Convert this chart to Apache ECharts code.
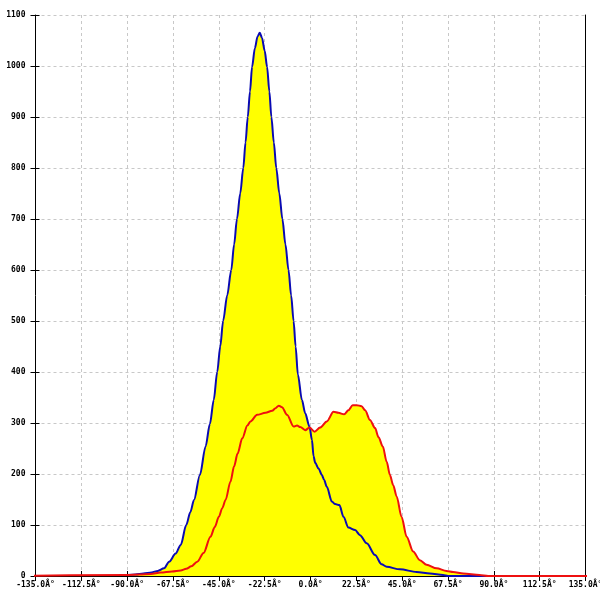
<!DOCTYPE html>
<html>
<head>
<meta charset="utf-8">
<script src="https://cdn.jsdelivr.net/npm/echarts@6/dist/echarts.min.js"></script>
<style>html,body{margin:0;padding:0;background:#fff}#c{width:600px;height:600px}</style>
</head>
<body>
<div id="c"></div>
<script>
var xTicks = [-135, -112.5, -90, -67.5, -45, -22.5, 0, 22.5, 45, 67.5, 90, 112.5, 135];
var yTicks = [0, 100, 200, 300, 400, 500, 600, 700, 800, 900, 1000, 1100];
var blueAngles = [-90,-86,-82,-78,-75,-71.9,-69.4,-66.2,-63.7,-61,-59,-57.2,-54.3,-51.5,-49.4,-47.5,-45.8,-44.3,-42.9,-40.9,-38.9,-37.5,-36.1,-34.5,-33,-31.9,-30.8,-29.7,-28.7,-27.3,-26,-24.9,-23.8,-22.5,-21.3,-20.2,-19.2,-18,-16.8,-15.3,-13.8,-12.3,-10.8,-9.5,-8.3,-7.3,-6.2,-4.2,-2.6,-0.5,0.7,1.5,2.3,3.9,5.6,6.7,8,10.5,12.1,14.2,16.2,18.6,21.9,24.3,27.6,31.7,34.9,37.4,43.9,52.1,58.6,65.1,67.5,90];
var blueValues = [2,3,5,7,10,15,28,44,61,100,125,149,198,254,298,345,400,450,500,550,600,650,700,750,800,850,900,950,998,1035,1058,1065,1055,1030,998,950,900,850,800,750,700,650,600,550,500,450,395,345,319,293,267,235,222,211,198,188,175,146,141,139,116,95,90,80,64,41,23,18,13,8,5,2,0,0];
var redAngles = [-155,-90,-84,-78.4,-73.5,-68,-63.7,-61,-58.5,-55.6,-52.5,-49.1,-47,-45,-43.3,-41.7,-39.3,-37.5,-35.8,-33.5,-31,-29.5,-26.2,-22.1,-18.8,-17.2,-15.6,-14,-11.5,-8.3,-6.6,-5,-2.6,-0.5,2,4.7,8,11.3,13.7,16.5,18.6,20.7,22.7,25.1,26.8,29.2,31.7,33.4,35.5,37.4,39,40.6,42.3,44.7,47.2,50.4,53.7,57,61.9,66.8,70,75,83,87.2,150];
var redValues = [0,2,3,4,7,9,11,14,19,28,45,77,96,116,133,149,185,215,240,270,295,303,316,320,324,329,334,331,316,293,295,292,286,291,283,291,303,322,320,317,325,335,335,333,325,306,290,272,254,224,198,178,156,116,77,48,31,22,15,10,8,5,2,0,0];

function pairs(a, v) { return a.map(function (x, i) { return [x, v[i]]; }); }
var blueData = pairs(blueAngles, blueValues);
var redData = pairs(redAngles, redValues);

var font = 'DejaVu Sans Mono';
var gridLine = { show: true, lineStyle: { color: '#c8c8c8', type: [3, 3], width: 1 } };
var sm = 0.3;

var chart = echarts.init(document.getElementById('c'), null, { renderer: 'canvas' });
chart.setOption({
  animation: false,
  backgroundColor: '#ffffff',
  grid: { left: 35.5, right: 14.5, top: 15, bottom: 24, containLabel: false, outerBoundsMode: 'none' },
  xAxis: [
    {
      type: 'value', min: -135, max: 135, interval: 22.5, position: 'bottom',
      axisLine: { show: true, onZero: false, lineStyle: { color: '#000', width: 1 } },
      axisTick: { show: true, length: 5, inside: false, lineStyle: { color: '#000' } },
      axisLabel: { show: true, margin: 5, color: '#000', fontFamily: font, fontSize: 8, fontWeight: 'bold',
        hideOverlap: false, showMinLabel: true, showMaxLabel: true,
        formatter: function (v) { return v.toFixed(1) + 'Â°'; } },
      splitLine: gridLine
    },
    {
      type: 'value', min: -135, max: 135, interval: 22.5, position: 'bottom', offset: 0,
      axisLine: { show: false, onZero: false },
      axisTick: { show: true, length: 5, inside: true, lineStyle: { color: '#000' } },
      axisLabel: { show: false }, splitLine: { show: false }
    }
  ],
  yAxis: [
    {
      type: 'value', min: 0, max: 1100, interval: 100, position: 'left',
      axisLine: { show: true, onZero: false, lineStyle: { color: '#000', width: 1 } },
      axisTick: { show: true, length: 5, inside: false, lineStyle: { color: '#000' } },
      axisLabel: { show: true, margin: 10, color: '#000', fontFamily: font, fontSize: 8, fontWeight: 'bold',
        formatter: function (v) { return String(v); } },
      splitLine: gridLine
    },
    {
      type: 'value', min: 0, max: 1100, interval: 100, position: 'left', offset: 0,
      axisLine: { show: false, onZero: false },
      axisTick: { show: true, length: 4, inside: true, lineStyle: { color: '#000' } },
      axisLabel: { show: false }, splitLine: { show: false }
    },
    {
      type: 'value', min: 0, max: 1100, interval: 100, position: 'right', offset: 0,
      axisLine: { show: true, onZero: false, lineStyle: { color: '#000', width: 1 } },
      axisTick: { show: false }, axisLabel: { show: false }, splitLine: { show: false }
    }
  ],
  series: [
    { type: 'line', data: blueData, showSymbol: false, symbol: 'none', z: 2, smooth: sm, smoothMonotone: 'x',
      lineStyle: { width: 0 }, areaStyle: { color: '#ffff00', opacity: 1 } },
    { type: 'line', data: redData, showSymbol: false, symbol: 'none', z: 2, smooth: sm, smoothMonotone: 'x',
      lineStyle: { width: 0 }, areaStyle: { color: '#ffff00', opacity: 1 } },
    { type: 'line', data: blueData, showSymbol: false, symbol: 'none', z: 4, smooth: sm, smoothMonotone: 'x',
      lineStyle: { width: 2, color: '#0a0ab4' } },
    { type: 'line', data: redData, showSymbol: false, symbol: 'none', z: 5, clip: false, smooth: sm, smoothMonotone: 'x',
      lineStyle: { width: 2, color: '#ee1010' } }
  ]
});
</script>
</body>
</html>
